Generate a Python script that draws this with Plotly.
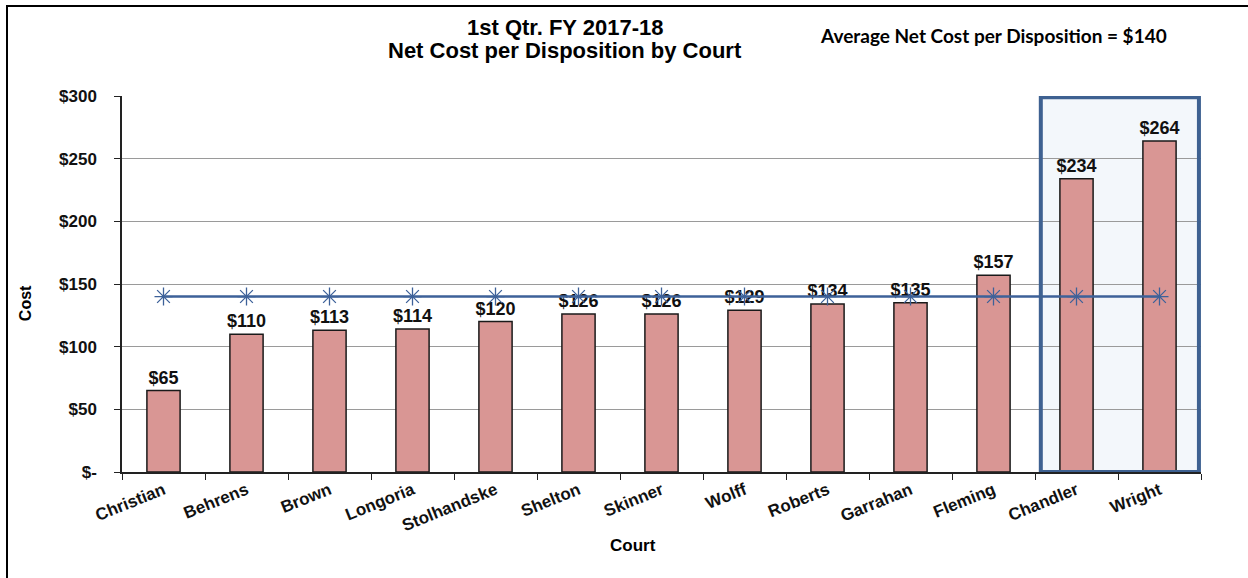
import plotly.graph_objects as go

courts = ["Christian", "Behrens", "Brown", "Longoria", "Stolhandske", "Shelton",
          "Skinner", "Wolff", "Roberts", "Garrahan", "Fleming", "Chandler", "Wright"]
net_cost = [65, 110, 113, 114, 120, 126, 126, 129, 134, 135, 157, 234, 264]
average_cost = 140
avg_series = [average_cost] * len(courts)
y_tick_vals = [0, 50, 100, 150, 200, 250, 300]
y_tick_text = ["$-", "$50", "$100", "$150", "$200", "$250", "$300"]
highlight_courts = ["Chandler", "Wright"]

W, H = 1248, 578
# plot area in page pixels: x 122..1201, y 96..471.7
L, R = 122, 1248 - 1201
T, B = 96, 578 - 471.7
pw, ph = W - L - R, H - T - B


def px(x):
    return (x - L) / pw


def py(y):
    return (H - B - y) / ph


fig = go.Figure()
fig.add_trace(go.Bar(
    x=courts, y=net_cost,
    marker=dict(color="#d99694", line=dict(color="#1a1a1a", width=1.5)),
    text=[f"${v}" for v in net_cost], textposition="outside",
    textfont=dict(family="Liberation Sans, Arial", size=18, color="#111", weight="bold"),
    constraintext="none",
    cliponaxis=False, width=0.4, showlegend=False,
))
fig.add_trace(go.Scatter(
    x=courts, y=avg_series, mode="lines+markers",
    line=dict(color="#3d6199", width=2.5),
    marker=dict(symbol="asterisk-open", size=15, line=dict(color="#4a6fa8", width=1.3)),
    showlegend=False,
))

i0 = courts.index(highlight_courts[0])
i1 = courts.index(highlight_courts[-1])
fig.add_shape(type="rect", xref="x", yref="y", x0=i0 - 0.43, x1=i1 + 0.475, y0=0, y1=299,
              fillcolor="#f3f7fb", line=dict(width=0), layer="below")
fig.add_shape(type="rect", xref="x", yref="y", x0=i0 - 0.43, x1=i1 + 0.475, y0=0, y1=299,
              fillcolor="rgba(0,0,0,0)", line=dict(color="#3e6191", width=4), layer="above")
# outer frame
fig.add_shape(type="rect", xref="paper", yref="paper", x0=px(7), x1=px(1252), y0=py(582), y1=py(6),
              line=dict(color="#000", width=2), layer="above")

fig.add_annotation(xref="paper", yref="paper", x=px(565), y=py(28), showarrow=False,
                   text="1st Qtr. FY 2017-18",
                   font=dict(family="Liberation Sans, Arial", size=22, color="#000", weight="bold"),
                   xanchor="center", yanchor="middle")
fig.add_annotation(xref="paper", yref="paper", x=px(565), y=py(51), showarrow=False,
                   text="Net Cost per Disposition by Court",
                   font=dict(family="Liberation Sans, Arial", size=22, color="#000", weight="bold"),
                   xanchor="center", yanchor="middle")
fig.add_annotation(xref="paper", yref="paper", x=px(818), y=py(36), showarrow=False,
                   text=f"Average Net Cost per Disposition = ${average_cost}",
                   font=dict(family="Lato", size=19, color="#000", weight="bold"),
                   xanchor="left", yanchor="middle")
fig.add_annotation(xref="paper", yref="paper", x=px(25), y=py(303), showarrow=False,
                   text="Cost", textangle=-90,
                   font=dict(family="Liberation Sans, Arial", size=16, color="#000", weight="bold"),
                   xanchor="center", yanchor="middle")
fig.add_annotation(xref="paper", yref="paper", x=px(633), y=py(545), showarrow=False,
                   text="Court",
                   font=dict(family="Liberation Sans, Arial", size=17, color="#000", weight="bold"),
                   xanchor="center", yanchor="middle")

fig.update_layout(
    width=W, height=H, margin=dict(l=L, r=R, t=T, b=B),
    paper_bgcolor="white", plot_bgcolor="white",
    bargap=0.6, hovermode=False,
)
fig.update_xaxes(
    type="category", tickangle=-22, tickson="boundaries",
    ticks="outside", ticklen=6, tickcolor="#222",
    showline=True, linecolor="#222", linewidth=1.5,
    showgrid=False,
    tickfont=dict(family="Liberation Sans, Arial", size=17, color="#111", weight="bold"),
    range=[-0.5, len(courts) - 0.5],
)
fig.update_yaxes(
    range=[0, 300], tickvals=y_tick_vals, ticktext=y_tick_text,
    ticks="outside", ticklen=6, tickcolor="#222", ticklabelstandoff=14,
    showline=True, linecolor="#222", linewidth=1.5,
    showgrid=True, gridcolor="#9a9a9a", gridwidth=1,
    zeroline=False,
    tickfont=dict(family="Liberation Sans, Arial", size=17, color="#111", weight="bold"),
)

fig.write_html("out.html", config={"displayModeBar": False},
               post_script="document.body.style.margin='0';document.body.style.overflow='hidden';")
